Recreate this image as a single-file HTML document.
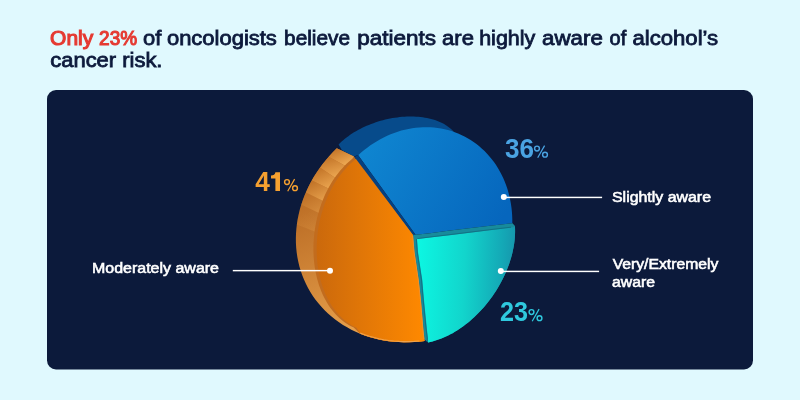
<!DOCTYPE html>
<html><head><meta charset="utf-8">
<style>
html,body{margin:0;padding:0;width:800px;height:400px;overflow:hidden;background:#E0F9FE;}
svg{position:absolute;left:0;top:0;will-change:transform;}
text{font-family:"Liberation Sans",sans-serif;}
</style></head>
<body>
<svg width="800" height="400" viewBox="0 0 800 400">
<defs>
  <linearGradient id="gOrFace" x1="0" y1="0" x2="1" y2="0">
    <stop offset="0" stop-color="#CB690C"/>
    <stop offset="1" stop-color="#FF8900"/>
  </linearGradient>
  <linearGradient id="gOrRim" gradientUnits="userSpaceOnUse" x1="300" y1="215" x2="345" y2="330">
    <stop offset="0" stop-color="#BC6E26"/>
    <stop offset="1" stop-color="#E59E4A"/>
  </linearGradient>
  <linearGradient id="gBlue" x1="0" y1="0.3" x2="1" y2="0.7">
    <stop offset="0" stop-color="#0F85D0"/>
    <stop offset="1" stop-color="#0666BD"/>
  </linearGradient>
  <linearGradient id="gTeal" x1="0" y1="0" x2="1" y2="0.05">
    <stop offset="0" stop-color="#0CF8E3"/>
    <stop offset="0.5" stop-color="#12D5CC"/>
    <stop offset="0.88" stop-color="#14A8B6"/>
    <stop offset="1" stop-color="#1698AD"/>
  </linearGradient>
  <linearGradient id="gBand" x1="0" y1="0.3" x2="1" y2="0.7">
    <stop offset="0" stop-color="#C27429"/>
    <stop offset="1" stop-color="#F0AB55"/>
  </linearGradient>
</defs>
<text x="50.10" y="45" font-size="20" stroke-width="1.1" textLength="43.05" lengthAdjust="spacingAndGlyphs" fill="#E53A32" stroke="#E53A32">Only</text>
<text x="99.10" y="45" font-size="20" stroke-width="1.1" textLength="38.00" lengthAdjust="spacingAndGlyphs" fill="#E53A32" stroke="#E53A32">23%</text>
<text x="143.00" y="45" font-size="20" stroke-width="0.8" textLength="18.30" lengthAdjust="spacingAndGlyphs" fill="#0D1A3C" stroke="#0D1A3C">of</text>
<text x="166.95" y="45" font-size="20" stroke-width="0.8" textLength="109.90" lengthAdjust="spacingAndGlyphs" fill="#0D1A3C" stroke="#0D1A3C">oncologists</text>
<text x="284.10" y="45" font-size="20" stroke-width="0.8" textLength="65.90" lengthAdjust="spacingAndGlyphs" fill="#0D1A3C" stroke="#0D1A3C">believe</text>
<text x="357.20" y="45" font-size="20" stroke-width="0.8" textLength="78.85" lengthAdjust="spacingAndGlyphs" fill="#0D1A3C" stroke="#0D1A3C">patients</text>
<text x="442.10" y="45" font-size="20" stroke-width="0.8" textLength="31.85" lengthAdjust="spacingAndGlyphs" fill="#0D1A3C" stroke="#0D1A3C">are</text>
<text x="479.20" y="45" font-size="20" stroke-width="0.8" textLength="56.05" lengthAdjust="spacingAndGlyphs" fill="#0D1A3C" stroke="#0D1A3C">highly</text>
<text x="542.10" y="45" font-size="20" stroke-width="0.8" textLength="60.80" lengthAdjust="spacingAndGlyphs" fill="#0D1A3C" stroke="#0D1A3C">aware</text>
<text x="609.60" y="45" font-size="20" stroke-width="0.8" textLength="16.60" lengthAdjust="spacingAndGlyphs" fill="#0D1A3C" stroke="#0D1A3C">of</text>
<text x="632.40" y="45" font-size="20" stroke-width="0.8" textLength="85.80" lengthAdjust="spacingAndGlyphs" fill="#0D1A3C" stroke="#0D1A3C">alcohol’s</text>
<text x="50.30" y="67" font-size="20" stroke-width="0.8" textLength="65.80" lengthAdjust="spacingAndGlyphs" fill="#0D1A3C" stroke="#0D1A3C">cancer</text>
<text x="122.20" y="67" font-size="20" stroke-width="0.8" textLength="40.30" lengthAdjust="spacingAndGlyphs" fill="#0D1A3C" stroke="#0D1A3C">risk.</text>
<rect x="47" y="90" width="706" height="279.5" rx="9" ry="9" fill="#0C1A3B"/>

<path d="M338.61,144.45L340.07,143.00 L341.59,141.58 L343.18,140.17 L344.84,138.80 L346.55,137.45 L348.33,136.13 L350.17,134.84 L352.06,133.58 L354.00,132.36 L355.99,131.17 L358.03,130.02 L360.12,128.91 L362.25,127.84 L364.42,126.81 L366.62,125.82 L368.86,124.88 L371.13,123.98 L373.43,123.13 L375.76,122.33 L378.10,121.57 L380.47,120.86 L382.85,120.21 L385.24,119.60 L387.65,119.05 L390.06,118.55 L392.48,118.11 L394.89,117.71 L397.30,117.38 L399.71,117.09 L402.11,116.87 L404.50,116.70 L406.87,116.58 L409.22,116.52 L411.56,116.52 L413.86,116.57 L416.15,116.68 L418.40,116.84 L420.62,117.06 L422.80,117.34 L424.94,117.67 L427.04,118.05 L429.10,118.49 L431.11,118.98 L433.08,119.53 L434.99,120.12 L436.84,120.77 L438.64,121.47 L440.38,122.22 L442.06,123.02 L443.67,123.86 L445.22,124.76 L446.70,125.69 L448.11,126.67 L449.45,127.70 L450.72,128.76 L451.91,129.87 L453.03,131.01 L454.07,132.20 L455.02,133.41 L430,180 L358,155 L354,156.5 L342,150.3 Z" fill="#074B8B"/>
<path d="M336.75,148.28L333.01,152.02 L329.42,155.89 L325.99,159.88 L322.71,163.97 L319.60,168.17 L316.67,172.46 L313.91,176.84 L311.33,181.30 L308.94,185.83 L306.74,190.43 L304.74,195.09 L302.93,199.79 L301.32,204.54 L299.92,209.32 L298.72,214.13 L297.72,218.95 L296.94,223.79 L296.37,228.63 L296.01,233.45 L295.86,238.27 L295.92,243.06 L296.19,247.82 L296.68,252.54 L297.38,257.22 L298.29,261.83 L299.40,266.39 L300.72,270.87 L302.25,275.28 L303.98,279.60 L305.90,283.83 L308.02,287.96 L310.34,291.98 L312.84,295.89 L315.52,299.68 L318.39,303.34 L321.42,306.87 L324.63,310.26 L328.00,313.50 L331.53,316.59 L335.21,319.53 L339.04,322.31 L343.00,324.93 L347.10,327.37 L351.33,329.64 L355.67,331.73 L360.12,333.65 L364.68,335.38 L369.34,336.92 L374.08,338.27 L378.90,339.43 L383.80,340.40 L388.75,341.17 L393.77,341.74 L398.83,342.12 L403.93,342.29 L409.06,342.27 L414.21,342.05 L419.37,341.64 L424.54,341.02L424.50,339.50 L423.50,330.00 L421.00,300.00 L418.80,280.00 L414.60,252.00 L413.00,234.50 L354,156.5 Z" fill="url(#gOrRim)"/>
<clipPath id="cRim"><path d="M336.75,148.28L333.01,152.02 L329.42,155.89 L325.99,159.88 L322.71,163.97 L319.60,168.17 L316.67,172.46 L313.91,176.84 L311.33,181.30 L308.94,185.83 L306.74,190.43 L304.74,195.09 L302.93,199.79 L301.32,204.54 L299.92,209.32 L298.72,214.13 L297.72,218.95 L296.94,223.79 L296.37,228.63 L296.01,233.45 L295.86,238.27 L295.92,243.06 L296.19,247.82 L296.68,252.54 L297.38,257.22 L298.29,261.83 L299.40,266.39 L300.72,270.87 L302.25,275.28 L303.98,279.60 L305.90,283.83 L308.02,287.96 L310.34,291.98 L312.84,295.89 L315.52,299.68 L318.39,303.34 L321.42,306.87 L324.63,310.26 L328.00,313.50 L331.53,316.59 L335.21,319.53 L339.04,322.31 L343.00,324.93 L347.10,327.37 L351.33,329.64 L355.67,331.73 L360.12,333.65 L364.68,335.38 L369.34,336.92 L374.08,338.27 L378.90,339.43 L383.80,340.40 L388.75,341.17 L393.77,341.74 L398.83,342.12 L403.93,342.29 L409.06,342.27 L414.21,342.05 L419.37,341.64 L424.54,341.02L424.50,339.50 L423.50,330.00 L421.00,300.00 L418.80,280.00 L414.60,252.00 L413.00,234.50 L354,156.5 Z"/></clipPath>
<g clip-path="url(#cRim)">
<linearGradient id="gB0" gradientUnits="userSpaceOnUse" x1="337.0" y1="148.5" x2="344.0" y2="165.0"><stop offset="0" stop-color="#C47629"/><stop offset="1" stop-color="#EDA852"/></linearGradient>
<linearGradient id="gB1" gradientUnits="userSpaceOnUse" x1="329.0" y1="157.0" x2="335.5" y2="178.0"><stop offset="0" stop-color="#C47629"/><stop offset="1" stop-color="#EDA852"/></linearGradient>
<linearGradient id="gB2" gradientUnits="userSpaceOnUse" x1="321.0" y1="168.3" x2="330.5" y2="189.5"><stop offset="0" stop-color="#C47629"/><stop offset="1" stop-color="#EDA852"/></linearGradient>
<linearGradient id="gB3" gradientUnits="userSpaceOnUse" x1="314.0" y1="181.5" x2="323.0" y2="201.0"><stop offset="0" stop-color="#C47629"/><stop offset="1" stop-color="#EDA852"/></linearGradient>
<linearGradient id="gB4" gradientUnits="userSpaceOnUse" x1="309.0" y1="194.0" x2="319.0" y2="213.0"><stop offset="0" stop-color="#C47629"/><stop offset="1" stop-color="#EDA852"/></linearGradient>
<linearGradient id="gB5" gradientUnits="userSpaceOnUse" x1="304.0" y1="206.0" x2="316.0" y2="232.0"><stop offset="0" stop-color="#C47629"/><stop offset="1" stop-color="#EDA852"/></linearGradient>
<path d="M333.4,138.8 L357.6,150.2 L347.5,166.9 L325.5,155.1 Z" fill="url(#gB0)" opacity="1.00"/>
<path d="M325.5,155.1 L347.5,166.9 L338.8,180.2 L317.7,166.1 Z" fill="url(#gB1)" opacity="1.00"/>
<path d="M317.7,166.1 L338.8,180.2 L334.1,191.2 L310.4,179.8 Z" fill="url(#gB2)" opacity="1.00"/>
<path d="M310.4,179.8 L334.1,191.2 L326.6,202.8 L305.4,192.2 Z" fill="url(#gB3)" opacity="0.85"/>
<path d="M305.4,192.2 L326.6,202.8 L322.6,214.7 L300.4,204.3 Z" fill="url(#gB4)" opacity="0.50"/>
<path d="M300.4,204.3 L322.6,214.7 L319.7,233.4 L294.3,223.6 Z" fill="url(#gB5)" opacity="0.25"/>
</g>
<path d="M353.85,157.67L351.46,159.52 L349.12,161.50 L346.82,163.60 L344.57,165.81 L342.37,168.14 L340.24,170.58 L338.16,173.13 L336.15,175.78 L334.21,178.53 L332.34,181.37 L330.55,184.30 L328.83,187.32 L327.19,190.42 L325.63,193.60 L324.16,196.84 L322.77,200.15 L321.47,203.53 L320.27,206.95 L319.15,210.43 L318.13,213.95 L317.21,217.51 L316.39,221.11 L315.66,224.73 L315.04,228.37 L314.51,232.03 L314.09,235.70 L313.77,239.38 L313.55,243.05 L313.44,246.71 L313.43,250.37 L313.53,254.00 L313.73,257.61 L314.03,261.19 L314.43,264.74 L314.94,268.24 L315.55,271.70 L316.26,275.11 L317.06,278.45 L317.97,281.74 L318.97,284.96 L320.07,288.10 L321.26,291.17 L322.54,294.15 L323.91,297.05 L325.37,299.86 L326.91,302.56 L328.54,305.17 L330.25,307.68 L332.03,310.07 L333.89,312.35 L335.82,314.52 L337.81,316.57 L339.88,318.49 L342.00,320.29 L344.19,321.96 L346.43,323.50 L348.72,324.91 L351.06,326.18 L353.44,327.31L360.12,333.65 L364.68,335.38 L369.34,336.92 L374.08,338.27 L378.90,339.43 L383.80,340.40 L388.75,341.17 L393.77,341.74 L398.83,342.12 L403.93,342.29 L409.06,342.27 L414.21,342.05 L419.37,341.64 L424.54,341.02L424.50,339.50 L423.50,330.00 L421.00,300.00 L418.80,280.00 L414.60,252.00 L413.00,234.50 Z" fill="#C26C1E"/>
<path d="M357.05,158.17L354.66,160.02 L352.32,162.00 L350.02,164.10 L347.77,166.31 L345.57,168.64 L343.44,171.08 L341.36,173.63 L339.35,176.28 L337.41,179.03 L335.54,181.87 L333.75,184.80 L332.03,187.82 L330.39,190.92 L328.83,194.10 L327.36,197.34 L325.97,200.65 L324.67,204.03 L323.47,207.45 L322.35,210.93 L321.33,214.45 L320.41,218.01 L319.59,221.61 L318.86,225.23 L318.24,228.87 L317.71,232.53 L317.29,236.20 L316.97,239.88 L316.75,243.55 L316.64,247.21 L316.63,250.87 L316.73,254.50 L316.93,258.11 L317.23,261.69 L317.63,265.24 L318.14,268.74 L318.75,272.20 L319.46,275.61 L320.26,278.95 L321.17,282.24 L322.17,285.46 L323.27,288.60 L324.46,291.67 L325.74,294.65 L327.11,297.55 L328.57,300.36 L330.11,303.06 L331.74,305.67 L333.45,308.18 L335.23,310.57 L337.09,312.85 L339.02,315.02 L341.01,317.07 L343.08,318.99 L345.20,320.79 L347.39,322.46 L349.63,324.00 L351.92,325.41 L354.26,326.68 L356.64,327.81L360.12,333.65 L364.68,335.38 L369.34,336.92 L374.08,338.27 L378.90,339.43 L383.80,340.40 L388.75,341.17 L393.77,341.74 L398.83,342.12 L403.93,342.29 L409.06,342.27 L414.21,342.05 L419.37,341.64 L424.54,341.02L424.50,339.50 L423.50,330.00 L421.00,300.00 L418.80,280.00 L414.60,252.00 L413.00,234.50 Z" fill="url(#gOrFace)"/>
<path d="M360.12,332.95L364.68,334.68 L369.34,336.22 L374.08,337.57 L378.90,338.73 L383.80,339.70 L388.75,340.47 L393.77,341.04 L398.83,341.42 L403.93,341.59 L409.06,341.57 L414.21,341.35 L419.37,340.94" fill="none" stroke="#EFA24C" stroke-width="1.1"/>
<path d="M358.20,155.27L361.15,152.62 L364.18,150.08 L367.28,147.67 L370.45,145.37 L373.69,143.20 L376.98,141.15 L380.34,139.24 L383.74,137.45 L387.19,135.81 L390.68,134.30 L394.21,132.93 L397.77,131.70 L401.35,130.62 L404.96,129.69 L408.58,128.89 L412.22,128.25 L415.85,127.76 L419.49,127.41 L423.13,127.22 L426.75,127.18 L430.36,127.28 L433.95,127.54 L437.51,127.94 L441.04,128.50 L444.54,129.20 L447.99,130.05 L451.40,131.05 L454.76,132.19 L458.07,133.48 L461.31,134.90 L464.49,136.47 L467.60,138.17 L470.64,140.01 L473.59,141.98 L476.47,144.08 L479.26,146.30 L481.96,148.65 L484.56,151.11 L487.07,153.70 L489.48,156.39 L491.78,159.19 L493.97,162.10 L496.05,165.11 L498.02,168.22 L499.87,171.41 L501.60,174.69 L503.20,178.06 L504.69,181.50 L506.04,185.02 L507.27,188.60 L508.37,192.25 L509.33,195.95 L510.16,199.70 L510.86,203.51 L511.42,207.35 L511.85,211.23 L512.14,215.13 L512.29,219.07 L512.30,223.02L512.50,223.30 L490.00,225.80 L450.00,230.50 L430.00,233.30 L415.50,234.80 Z" fill="url(#gBlue)"/>
<path d="M354.5,157 L358,155 L415.5,234.8 L413,234.8 Z" fill="#06407F"/>
<path d="M413,234.8 L415.50,234.80 L430.00,233.30 L450.00,230.50 L490.00,225.80 L512.50,223.30 L515,226 L515.04,228.37 L515.09,230.74 L515.06,233.14 L514.96,235.57 L514.79,238.02 L514.56,240.50 L514.25,243.00 L513.87,245.51 L513.42,248.05 L512.90,250.59 L512.31,253.15 L511.66,255.72 L510.94,258.30 L510.15,260.87 L509.29,263.45 L508.37,266.03 L507.39,268.60 L506.34,271.17 L505.23,273.72 L504.06,276.27 L502.83,278.80 L501.54,281.31 L500.19,283.80 L498.79,286.28 L497.33,288.72 L495.82,291.14 L494.25,293.54 L492.64,295.90 L490.98,298.22 L489.27,300.51 L487.52,302.76 L485.72,304.97 L483.88,307.14 L482.01,309.26 L480.09,311.34 L478.14,313.36 L476.15,315.34 L474.14,317.26 L472.09,319.12 L470.01,320.93 L467.91,322.68 L465.78,324.37 L463.64,325.99 L461.47,327.55 L459.29,329.05 L457.09,330.48 L454.87,331.84 L452.65,333.13 L450.42,334.35 L448.18,335.50 L445.94,336.57 L443.69,337.57 L441.45,338.50 L439.21,339.34 L436.97,340.11 L434.74,340.81 L432.52,341.42 L430.31,341.95 L428.12,342.41L424.50,339.50 L423.50,330.00 L421.00,300.00 L418.80,280.00 L414.60,252.00 L413.00,234.50 Z" fill="#178B9C"/>
<path d="M417,239 L430.00,237.60 L450.00,235.20 L490.00,230.30 L515.00,227.00L515.04,228.37 L515.09,230.74 L515.06,233.14 L514.96,235.57 L514.79,238.02 L514.56,240.50 L514.25,243.00 L513.87,245.51 L513.42,248.05 L512.90,250.59 L512.31,253.15 L511.66,255.72 L510.94,258.30 L510.15,260.87 L509.29,263.45 L508.37,266.03 L507.39,268.60 L506.34,271.17 L505.23,273.72 L504.06,276.27 L502.83,278.80 L501.54,281.31 L500.19,283.80 L498.79,286.28 L497.33,288.72 L495.82,291.14 L494.25,293.54 L492.64,295.90 L490.98,298.22 L489.27,300.51 L487.52,302.76 L485.72,304.97 L483.88,307.14 L482.01,309.26 L480.09,311.34 L478.14,313.36 L476.15,315.34 L474.14,317.26 L472.09,319.12 L470.01,320.93 L467.91,322.68 L465.78,324.37 L463.64,325.99 L461.47,327.55 L459.29,329.05 L457.09,330.48 L454.87,331.84 L452.65,333.13 L450.42,334.35 L448.18,335.50 L445.94,336.57 L443.69,337.57 L441.45,338.50 L439.21,339.34 L436.97,340.11 L434.74,340.81 L432.52,341.42 L430.31,341.95 L428.12,342.41L428.00,343.00 L428.00,338.00 L427.00,330.00 L424.00,300.00 L422.30,280.00 L418.00,252.00 L417.00,239.00 Z" fill="url(#gTeal)"/>
<path d="M417.5,238.6 L430.00,237.00 L450.00,234.60 L490.00,229.70 L511,227.2 M427.20,342.00L427.20,338.00 L426.20,330.00 L423.20,300.00 L421.50,280.00 L417.20,252.00 L416.4,239" fill="none" stroke="#10697C" stroke-width="1" opacity="0.75"/>
<path d="M424,339 L423,330 L420.5,300 L418.3,280 L414.1,252 L412.8,236" fill="none" stroke="#E9953F" stroke-width="0.9" opacity="0.8"/>

<g fill="#fff">
<rect x="504" y="196.7" width="98.1" height="1.45"/>
<circle cx="503.8" cy="197.1" r="3"/>
<rect x="500.7" y="270.7" width="98.4" height="1.45"/>
<circle cx="500.8" cy="271" r="3"/>
<rect x="232.8" y="269.9" width="97" height="1.45"/>
<circle cx="330" cy="270.7" r="3"/>
<text x="612" y="201.7" font-size="14" stroke="#fff" stroke-width="0.55" textLength="99" lengthAdjust="spacingAndGlyphs">Slightly aware</text>
<text x="612.7" y="269.3" font-size="14" stroke="#fff" stroke-width="0.55" textLength="105.6" lengthAdjust="spacingAndGlyphs">Very/Extremely</text>
<text x="612" y="286.8" font-size="14" stroke="#fff" stroke-width="0.55" textLength="43" lengthAdjust="spacingAndGlyphs">aware</text>
<text x="92" y="272.6" font-size="14" stroke="#fff" stroke-width="0.55" textLength="127" lengthAdjust="spacingAndGlyphs">Moderately aware</text>
</g>
<g font-weight="bold">
<text x="505" y="158" font-size="27.5" textLength="29" lengthAdjust="spacingAndGlyphs" fill="#4AA3E2">36</text>

<text x="255.3" y="191" font-size="27" textLength="14.6" lengthAdjust="spacingAndGlyphs" fill="#F5A030">4</text>
<path d="M275.4,172.2 L280,172.2 L280,191 L275.4,191 L275.4,178.6 L271,178.6 L271,175.4 C273.6,175.3 275,174.4 275.4,172.2 Z" fill="#F5A030"/>

<text x="500" y="320.5" font-size="27.5" textLength="28" lengthAdjust="spacingAndGlyphs" fill="#2FC9DE">23</text>

</g>
<g fill="none" stroke-width="1.45" stroke="#F5A030"><circle cx="287" cy="182" r="2.4"/><circle cx="295" cy="188.2" r="2.4"/><path d="M287.7,191.3 L294.6,179.1" stroke-width="1.2"/></g>
<g fill="none" stroke-width="1.45" stroke="#4AA3E2" transform="translate(250,-33.5)"><circle cx="287" cy="182" r="2.4"/><circle cx="295" cy="188.2" r="2.4"/><path d="M287.7,191.3 L294.6,179.1" stroke-width="1.2"/></g>
<g fill="none" stroke-width="1.45" stroke="#2FC9DE" transform="translate(244.5,130)"><circle cx="287" cy="182" r="2.4"/><circle cx="295" cy="188.2" r="2.4"/><path d="M287.7,191.3 L294.6,179.1" stroke-width="1.2"/></g>
</svg>
</body></html>
